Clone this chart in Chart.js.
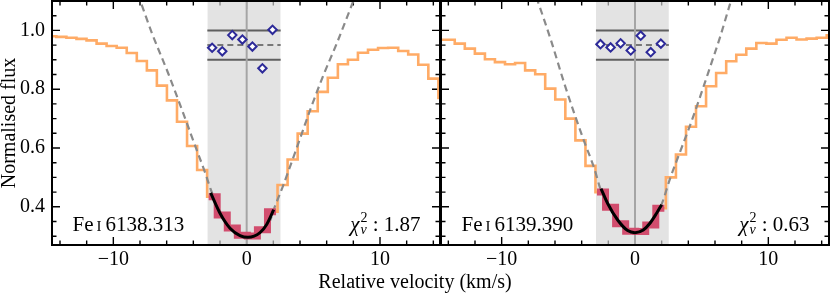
<!DOCTYPE html>
<html>
<head>
<meta charset="utf-8">
<script src="https://cdn.jsdelivr.net/npm/chart.js@4.4.0/dist/chart.umd.min.js"></script>
<style>
  body { margin: 0; background: #fff; }
  #wrap { position: relative; width: 830px; height: 294px; }
  #c1 { position: absolute; left: 0; top: 0; }
  #c2 { position: absolute; left: 440px; top: 0; }
  #xlabel { position: absolute; left: 0; top: 271px; width: 830px; text-align: center;
            font: 20px "Liberation Serif"; line-height: 20px; color: #000; }
</style>
</head>
<body>
<div id="wrap">
  <canvas id="c1" width="441" height="294"></canvas>
  <canvas id="c2" width="390" height="294"></canvas>
  <div id="xlabel">Relative velocity (km/s)</div>
</div>
<script>
// pixel centres of the spectrum (km/s), same for both lines
const velocity = [-14.65, -13.90, -13.14, -12.39, -11.63, -10.88, -10.13, -9.37, -8.62, -7.86,
  -7.11, -6.36, -5.60, -4.85, -4.09, -3.34, -2.59, -1.83, -1.08, -0.32,
  0.43, 1.18, 1.94, 2.69, 3.45, 4.20, 4.95, 5.71, 6.46, 7.22,
  7.97, 8.72, 9.48, 10.23, 10.99, 11.74, 12.49, 13.25, 14.00, 14.76];

// normalised flux, Fe I 6138.313
const fluxA = [0.980, 0.978, 0.975, 0.971, 0.966, 0.955, 0.947, 0.941, 0.923, 0.896,
  0.864, 0.812, 0.762, 0.689, 0.607, 0.525, 0.434, 0.372, 0.328, 0.303,
  0.301, 0.322, 0.383, 0.474, 0.561, 0.649, 0.725, 0.791, 0.839, 0.885,
  0.900, 0.924, 0.934, 0.940, 0.941, 0.930, 0.918, 0.883, 0.836, 0.770];

// normalised flux, Fe I 6139.390
const fluxB = [0.968, 0.968, 0.955, 0.938, 0.921, 0.902, 0.892, 0.885, 0.889, 0.864,
  0.851, 0.802, 0.765, 0.700, 0.626, 0.539, 0.450, 0.398, 0.342, 0.317,
  0.316, 0.338, 0.395, 0.500, 0.578, 0.672, 0.742, 0.810, 0.855, 0.895,
  0.917, 0.938, 0.957, 0.955, 0.968, 0.975, 0.969, 0.972, 0.975, 0.983];

// fitted pixels are velocity[16..22]
const fitFirst = 16, fitLast = 23;

// residuals shown around 0.95
const residA = [0.941, 0.929, 0.984, 0.969, 0.945, 0.871, 1.002];
const residB = [0.953, 0.942, 0.956, 0.932, 0.982, 0.926, 0.955];

// broad model profile (dashed)
const modelVelA = [-8.5, -7.98, -7.10, -5.85, -4.61, -3.86, -3.11, -2.66, -2.00, -1.25, -0.50, 0.10,
  1.00, 1.75, 2.03, 2.75, 3.87, 4.75, 5.75, 6.75, 8.00, 8.5];
const modelFluxA = [1.16, 1.10, 0.99, 0.850, 0.700, 0.607, 0.515, 0.455, 0.385, 0.330, 0.302, 0.296,
  0.312, 0.352, 0.390, 0.474, 0.615, 0.728, 0.847, 0.955, 1.10, 1.16];
const modelVelB = [-7.7, -7.30, -6.30, -5.30, -4.55, -3.80, -3.05, -2.60, -2.05, -1.30, -0.55, 0.00,
  0.62, 1.12, 1.62, 2.00, 2.63, 3.38, 4.13, 4.88, 5.63, 6.38, 7.13, 7.5];
const modelFluxB = [1.15, 1.10, 0.966, 0.819, 0.717, 0.621, 0.530, 0.462, 0.411, 0.355, 0.319, 0.312,
  0.321, 0.344, 0.378, 0.409, 0.496, 0.587, 0.677, 0.774, 0.875, 0.977, 1.09, 1.14];

// fitted core (black)
const fitVelA = [-2.70, -2.00, -1.25, -0.50, 0.10, 1.00, 1.50, 2.03];
const fitFluxA = [0.447, 0.378, 0.327, 0.302, 0.296, 0.312, 0.340, 0.390];
const fitVelB = [-2.55, -2.05, -1.30, -0.55, 0.00, 0.62, 1.12, 1.62, 2.00];
const fitFluxB = [0.462, 0.411, 0.355, 0.319, 0.312, 0.321, 0.344, 0.378, 0.407];

const spanA = [-2.95, 2.55];
const spanB = [-2.93, 2.54];
const residLevels = [1.0, 0.95, 0.9];

const xRangeA = [-14.6, 14.5];
const xRangeB = [-14.55, 14.55];
const yRange = [0.27, 1.1];

const elements = ['Fe', 'Fe'];
const ions = ['I', 'I'];
const wavelengths = ['6138.313', '6139.390'];
const chi2 = ['1.87', '0.63'];

Chart.defaults.font.family = '"Liberation Serif", serif';
Chart.defaults.color = '#000';

const pts = (xs, ys) => xs.map((x, i) => ({ x: x, y: ys[i] }));

// inward ticks on all four sides + the box
const frame = {
  id: 'frame',
  beforeDatasetsDraw(chart) {
    const { ctx, chartArea: a, scales: { x, y } } = chart;
    ctx.save();
    ctx.strokeStyle = '#000';
    ctx.lineWidth = 1.4;
    ctx.beginPath();
    for (let i = Math.ceil(x.min / 2); i * 2 <= x.max; i++) {
      const px = x.getPixelForValue(i * 2), len = i % 5 === 0 ? 8 : 4.5;
      ctx.moveTo(px, a.bottom); ctx.lineTo(px, a.bottom - len);
      ctx.moveTo(px, a.top); ctx.lineTo(px, a.top + len);
    }
    for (let i = Math.ceil(y.min / 0.05 - 1e-6); i * 0.05 <= y.max + 1e-6; i++) {
      const py = y.getPixelForValue(i * 0.05), len = i % 4 === 0 ? 8 : 4.5;
      ctx.moveTo(a.left, py); ctx.lineTo(a.left + len, py);
      ctx.moveTo(a.right, py); ctx.lineTo(a.right - len, py);
    }
    ctx.stroke();
    ctx.restore();
  },
  afterDatasetsDraw(chart) {
    const { ctx, chartArea: a } = chart;
    ctx.save();
    ctx.strokeStyle = '#000';
    ctx.lineWidth = 2;
    ctx.strokeRect(a.left, a.top, a.right - a.left, a.bottom - a.top);
    ctx.restore();
  }
};

// line name and reduced chi-square
const notes = {
  id: 'notes',
  afterDraw(chart, args, o) {
    const { ctx, chartArea: a } = chart;
    const base = a.bottom - 14;
    ctx.save();
    ctx.fillStyle = '#000';
    ctx.textBaseline = 'alphabetic';
    let px = a.left + 20.5;
    ctx.font = '21px "Liberation Serif"';
    ctx.fillText(o.element, px, base);
    px += ctx.measureText(o.element).width + 3;
    ctx.font = '15px "Liberation Serif"';
    ctx.fillText(o.ion, px, base);
    px += ctx.measureText(o.ion).width + 4;
    ctx.font = '21px "Liberation Serif"';
    ctx.fillText(o.wave, px, base);

    ctx.font = 'italic 21px "Liberation Serif"';
    const wChi = ctx.measureText('χ').width;
    ctx.font = '14px "Liberation Serif"';
    const wSup = ctx.measureText('2').width;
    ctx.font = 'italic 14px "Liberation Serif"';
    const wSub = ctx.measureText('ν').width;
    ctx.font = '21px "Liberation Serif"';
    const rest = ' : ' + o.chi;
    const wRest = ctx.measureText(rest).width;
    let cx = a.right - 19.5 - (wChi + Math.max(wSup, wSub) + 1 + wRest);
    ctx.font = 'italic 21px "Liberation Serif"';
    ctx.fillText('χ', cx, base);
    cx += wChi + 1;
    ctx.font = '14px "Liberation Serif"';
    ctx.fillText('2', cx, base - 9.5);
    ctx.font = 'italic 14px "Liberation Serif"';
    ctx.fillText('ν', cx, base + 3);
    cx += Math.max(wSup, wSub);
    ctx.font = '21px "Liberation Serif"';
    ctx.fillText(rest, cx, base);
    ctx.restore();
  }
};

function panel(id, p) {
  const win = velocity.slice(fitFirst, fitLast);
  const datasets = [
    { label: 'residuals', data: pts(win, p.resid), showLine: false, pointStyle: 'rectRot',
      pointRadius: 4.2, pointBorderWidth: 2, pointBorderColor: '#2d2a99',
      pointBackgroundColor: '#ffffff', order: 0 },
    { label: 'fit', data: pts(p.fitVel, p.fitFlux), borderColor: '#000', borderWidth: 3,
      pointRadius: 0, cubicInterpolationMode: 'monotone', order: 1 },
    { label: 'fitted pixels', data: pts(win, p.flux.slice(fitFirst, fitLast)), stepped: 'middle',
      borderColor: '#d24d6e', borderWidth: 7, borderCapStyle: 'square', pointRadius: 0, order: 2 },
    { label: 'model', data: pts(p.modelVel, p.modelFlux), borderColor: '#8a8a8a', borderWidth: 2.2,
      borderDash: [7, 4.5], pointRadius: 0, cubicInterpolationMode: 'monotone', order: 3 },
    { label: 'spectrum', data: pts(velocity, p.flux), stepped: 'middle', borderColor: '#ffab66',
      borderWidth: 2.6, pointRadius: 0, order: 4 },
    { label: 'centre', data: [{ x: 0, y: yRange[0] }, { x: 0, y: yRange[1] }],
      borderColor: '#a5a5a5', borderWidth: 2, pointRadius: 0, order: 5 }
  ];
  residLevels.forEach((lv, i) => datasets.push({
    label: 'level ' + lv, data: [{ x: p.span[0], y: lv }, { x: p.span[1], y: lv }],
    borderColor: i === 1 ? '#777777' : '#5f5f5f', borderDash: i === 1 ? [6, 4] : [],
    borderWidth: 2, pointRadius: 0, order: 6
  }));
  datasets.push({ label: 'window', data: [{ x: p.span[0], y: yRange[1] }, { x: p.span[1], y: yRange[1] }],
    fill: 'start', backgroundColor: 'rgba(212,212,212,0.66)', borderWidth: 0, pointRadius: 0, order: 7 });

  const noPad = s => { s.paddingTop = 0; s.paddingBottom = 0; s.paddingLeft = 0; s.paddingRight = 0; };

  return new Chart(document.getElementById(id), {
    type: 'line',
    data: { datasets: datasets },
    options: {
      responsive: false,
      animation: false,
      events: [],
      layout: { autoPadding: false, padding: { top: 1, right: 1, left: p.first ? 0 : 1, bottom: 0 } },
      plugins: {
        legend: { display: false },
        tooltip: { enabled: false },
        notes: { element: p.element, ion: p.ion, wave: p.wave, chi: p.chi }
      },
      scales: {
        x: {
          type: 'linear', min: p.xRange[0], max: p.xRange[1],
          grid: { display: false, drawTicks: false }, border: { display: false },
          ticks: { stepSize: 10, includeBounds: false, padding: 3, font: { size: 20 },
                   callback: v => (v < 0 ? '\u2212' : '') + Math.abs(v) },
          afterFit: s => { s.height = 49; noPad(s); }
        },
        y: {
          type: 'linear', min: yRange[0], max: yRange[1], display: p.first,
          grid: { display: false, drawTicks: false }, border: { display: false },
          ticks: { stepSize: 0.2, includeBounds: false, padding: 7, font: { size: 20 },
                   callback: v => v.toFixed(1) },
          title: { display: p.first, text: 'Normalised flux', font: { size: 20, lineHeight: 1 },
                   padding: { top: 0, bottom: 0 } },
          afterFit: s => { s.width = p.first ? 52 : 0; noPad(s); }
        }
      }
    },
    plugins: [frame, notes]
  });
}

panel('c1', { first: true, flux: fluxA, resid: residA, modelVel: modelVelA, modelFlux: modelFluxA,
  fitVel: fitVelA, fitFlux: fitFluxA, span: spanA, xRange: xRangeA,
  element: elements[0], ion: ions[0], wave: wavelengths[0], chi: chi2[0] });
panel('c2', { first: false, flux: fluxB, resid: residB, modelVel: modelVelB, modelFlux: modelFluxB,
  fitVel: fitVelB, fitFlux: fitFluxB, span: spanB, xRange: xRangeB,
  element: elements[1], ion: ions[1], wave: wavelengths[1], chi: chi2[1] });
</script>
</body>
</html>
